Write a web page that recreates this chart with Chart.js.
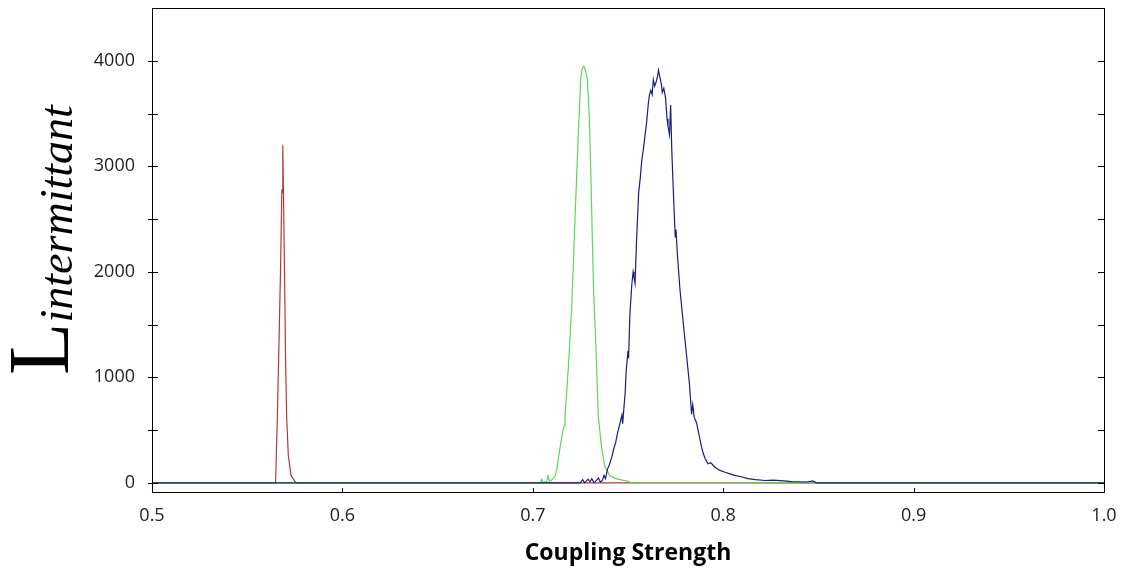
<!DOCTYPE html>
<html>
<head>
<meta charset="utf-8">
<script src="https://cdn.jsdelivr.net/npm/chart.js@4.4.1/dist/chart.umd.min.js"></script>
<style>
  body { margin: 0; background: #fff; }
  #wrap { width: 1126px; height: 575px; }
</style>
</head>
<body>
<div id="wrap"><canvas id="grafico" width="1126" height="575"></canvas></div>
<script>
// ticks
const xTicks = [0.5, 0.6, 0.7, 0.8, 0.9, 1.0];
const yTicks = [0, 1000, 2000, 3000, 4000];

// red series
const redX = [0.5, 0.5649, 0.5658, 0.5666, 0.5675, 0.5682, 0.5685, 0.5687, 0.5690, 0.5696, 0.5701, 0.5707, 0.5716, 0.5730, 0.5756, 1.0];
const redY = [0, 0, 600, 1250, 2010, 2780, 2750, 3200, 2800, 1990, 1240, 630, 260, 70, 0, 0];

// green series
const greenX = [0.5, 0.7040, 0.7047, 0.7055, 0.7064, 0.7072, 0.7080, 0.7088, 0.7096, 0.7108, 0.7117, 0.7125,
  0.7134, 0.7147, 0.7160, 0.7165, 0.7169, 0.7178, 0.7187, 0.7204, 0.7222, 0.7239, 0.7252, 0.7260, 0.7268,
  0.7274, 0.7286, 0.7297, 0.7306, 0.7318, 0.7332, 0.7344, 0.7362, 0.7379, 0.7405, 0.7441, 0.7470, 0.7493, 0.7520, 1.0];
const greenY = [0, 0, 35, 0, 10, 0, 65, 15, 20, 45, 60, 120,
  226, 380, 509, 540, 632, 860, 1104, 1642, 2519, 3311, 3840, 3934, 3950,
  3925, 3840, 3462, 2840, 1896, 1264, 632, 321, 151, 66, 38, 25, 19, 0, 0];

// blue series
const blueX = [0.5, 0.7250, 0.7262, 0.7272, 0.7290, 0.7300, 0.7310, 0.7322, 0.7345, 0.7355, 0.7366, 0.7374,
  0.7382, 0.7392, 0.7400, 0.7416, 0.7426, 0.7435, 0.7445, 0.7452, 0.7460, 0.7468, 0.7472, 0.7478, 0.7485,
  0.7490, 0.7495, 0.7500, 0.7503, 0.7510, 0.7520, 0.7527, 0.7531, 0.7537, 0.7545, 0.7556, 0.7565, 0.7572,
  0.7580, 0.7590, 0.7598, 0.7607, 0.7613, 0.7620, 0.7627, 0.7633, 0.7640, 0.7648, 0.7655, 0.7660, 0.7667,
  0.7675, 0.7680, 0.7688, 0.7697, 0.7705, 0.7710, 0.7718, 0.7724, 0.7730, 0.7740, 0.7748, 0.7752, 0.7760,
  0.7773, 0.7790, 0.7808, 0.7822, 0.7834, 0.7840, 0.7848, 0.7860, 0.7877, 0.7885, 0.7895, 0.7905, 0.7920,
  0.7935, 0.7955, 0.7980, 0.8010, 0.8035, 0.8060, 0.8090, 0.8130, 0.8170, 0.8220, 0.8260, 0.8320, 0.8360,
  0.8390, 0.8440, 0.8470, 0.8490, 1.0];
const blueY = [0, 0, 30, 0, 35, 10, 40, 0, 45, 5, 25, 70,
  40, 130, 160, 250, 330, 380, 470, 520, 580, 640, 560, 700, 850,
  1050, 1150, 1250, 1180, 1600, 1880, 2000, 1950, 1890, 2300, 2750, 2900, 3050,
  3150, 3300, 3420, 3600, 3680, 3720, 3680, 3820, 3760, 3800, 3850, 3910, 3850,
  3780, 3700, 3740, 3650, 3450, 3380, 3300, 3580, 3150, 2680, 2330, 2400, 2150,
  1830, 1520, 1200, 950, 650, 740, 620, 570, 420, 350, 280, 230, 180,
  190, 150, 120, 100, 85, 70, 60, 40, 30, 22, 25, 18, 12,
  10, 8, 18, 0, 0];

const pontos = (xs, ys) => xs.map((x, i) => ({ x: x, y: ys[i] }));

// moldura e marcas internas
const moldura = {
    id: 'moldura',
    afterDraw(chart) {
        const { ctx, chartArea: a, scales } = chart;
        ctx.save();
        ctx.strokeStyle = '#000';
        ctx.lineWidth = 1;
        ctx.strokeRect(Math.round(a.left) + 0.5, Math.round(a.top) + 0.5,
            Math.round(a.right - a.left), Math.round(a.bottom - a.top));
        ctx.beginPath();
        [0.6, 0.7, 0.8, 0.9].forEach(v => {
            const px = Math.round(scales.x.getPixelForValue(v)) + 0.5;
            ctx.moveTo(px, a.bottom);
            ctx.lineTo(px, a.bottom - 4);
        });
        for (let v = 0; v <= 4000; v += 500) {
            const py = Math.round(scales.y.getPixelForValue(v)) + 0.5;
            ctx.moveTo(a.left - 4, py);
            ctx.lineTo(a.left + 6, py);
            ctx.moveTo(a.right - 6, py);
            ctx.lineTo(a.right, py);
        }
        ctx.stroke();

        // titulo do eixo y: L com indice "intermittant"
        ctx.fillStyle = '#000';
        ctx.translate(68, 375);
        ctx.rotate(-Math.PI / 2);
        ctx.textBaseline = 'alphabetic';
        ctx.font = '86px "Liberation Serif"';
        ctx.fillText('L', 0, 0);
        const w = ctx.measureText('L').width;
        ctx.font = 'italic 46px "Liberation Serif"';
        ctx.fillText('intermittant', w, 4);
        ctx.restore();
    }
};

new Chart(document.getElementById('grafico'), {
    type: 'line',
    data: {
        datasets: [
            { data: pontos(blueX, blueY), borderColor: '#1c1c7e', order: 0 },
            { data: pontos(greenX, greenY), borderColor: '#5ad65a', order: 1 },
            { data: pontos(redX, redY), borderColor: '#b03a3a', order: 2 }
        ]
    },
    options: {
        responsive: false,
        animation: false,
        layout: { padding: { left: 0, top: 8, right: 22, bottom: 0 } },
        elements: {
            line: { borderWidth: 1.2, tension: 0 },
            point: { radius: 0 }
        },
        plugins: { legend: { display: false }, tooltip: { enabled: false } },
        scales: {
            x: {
                type: 'linear',
                min: 0.5,
                max: 1.0,
                afterBuildTicks: s => { s.ticks = xTicks.map(v => ({ value: v })); },
                afterFit: s => { s.height = 83; s.paddingLeft = 0; s.paddingRight = 0; },
                grid: { display: false },
                border: { display: false },
                ticks: {
                    padding: 5,
                    color: '#222',
                    font: { family: '"Open Sans"', size: 18 },
                    callback: v => v.toFixed(1)
                },
                title: {
                    display: true,
                    text: 'Coupling Strength',
                    color: '#000',
                    padding: { top: 0, bottom: 8 },
                    font: { family: '"Open Sans"', size: 23, weight: 'bold' }
                }
            },
            y: {
                min: -87,
                max: 4500,
                afterBuildTicks: s => { s.ticks = yTicks.map(v => ({ value: v })); },
                afterFit: s => { s.width = 152; s.paddingTop = 0; s.paddingBottom = 0; },
                grid: { display: false },
                border: { display: false },
                ticks: {
                    padding: 9,
                    color: '#222',
                    font: { family: '"Open Sans"', size: 18 },
                    callback: v => String(v)
                }
            }
        }
    },
    plugins: [moldura]
});
</script>
</body>
</html>
